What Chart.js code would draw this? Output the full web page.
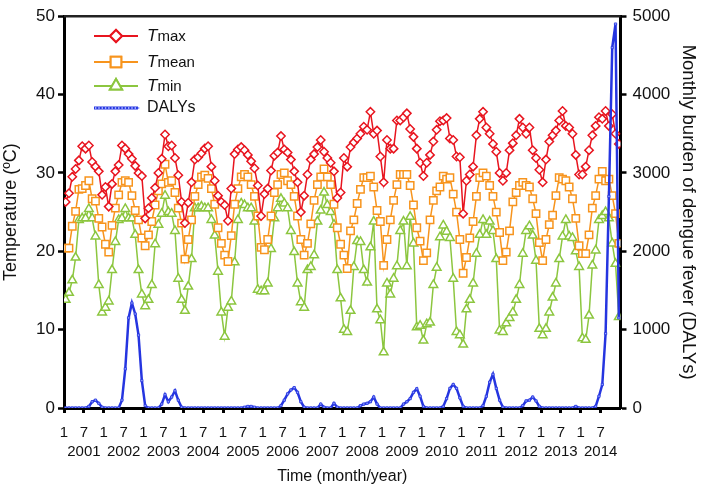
<!DOCTYPE html>
<html><head><meta charset="utf-8">
<script src="https://cdn.jsdelivr.net/npm/chart.js@4.4.0/dist/chart.umd.min.js"></script>
<style>html,body{margin:0;padding:0;background:#fff}#wrap{width:702px;height:488px;position:relative}</style>
</head><body><div id="wrap"><canvas id="c" width="702" height="488"></canvas></div>
<script>
const years = [2001,2002,2003,2004,2005,2006,2007,2008,2009,2010,2011,2012,2013,2014];
const monthTicks = ['1','7'];
const tempTicks = [0,10,20,30,40,50];
const dalyTicks = [0,1000,2000,3000,4000,5000];

const tmax = [
26.3,27.4,29.5,30.5,31.6,33.4,33.1,33.5,31.4,30.8,30.2,27.2,
28.2,25.7,28.6,30.2,31.0,33.5,33.1,32.4,31.8,30.9,30.0,29.6,
24.2,25.5,26.8,28.1,30.0,31.8,34.9,33.4,33.5,31.9,29.7,26.3,
23.6,26.2,28.8,31.7,32.0,32.5,33.1,33.4,30.8,29.0,27.1,26.3,
25.9,23.9,28.0,32.4,33.0,33.3,32.9,32.3,31.5,30.6,28.4,24.5,
27.3,28.0,30.3,32.2,32.6,34.7,33.0,32.6,31.7,30.2,28.8,25.0,
27.1,29.8,31.7,32.4,33.3,34.2,32.7,31.9,31.3,30.2,26.8,27.5,
31.9,30.8,33.3,33.9,34.4,35.0,35.9,35.5,37.8,35.0,35.4,32.1,
28.8,34.2,33.1,33.1,36.7,36.7,37.1,37.6,35.6,34.6,33.1,31.3,
29.6,31.3,32.3,34.0,35.5,36.6,36.7,37.0,34.4,34.2,32.1,32.0,
24.8,29.0,29.8,30.8,34.8,36.9,37.8,35.8,35.0,33.7,32.7,30.0,
29.0,30.0,32.9,33.8,34.8,36.9,35.8,35.0,35.8,32.9,31.9,30.4,
28.8,31.7,34.0,34.8,35.4,36.7,37.9,36.0,35.8,35.0,32.3,29.8,
29.8,30.8,32.9,34.8,36.0,37.1,36.9,37.9,36.0,37.5,35.0,33.7
];
const tmean = [
20.4,20.4,23.2,25.1,27.9,28.0,28.4,29.0,26.7,26.4,24.2,23.1,
20.9,19.9,23.3,25.5,27.2,28.8,29.0,28.8,27.1,25.2,24.0,21.7,
20.7,22.1,23.8,25.9,27.7,28.6,31.1,28.8,29.0,27.5,25.5,23.6,
19.0,21.5,24.0,27.0,28.5,29.5,29.7,29.3,28.0,26.0,23.0,21.0,
19.5,18.7,22.0,26.0,28.0,29.5,29.8,29.5,28.5,27.0,24.5,20.5,
20.2,21.5,24.5,27.5,28.5,29.8,30.0,29.0,28.5,27.0,24.5,21.5,
19.5,21.0,23.5,26.5,28.5,29.5,30.5,29.5,28.5,26.0,23.0,20.9,
19.5,17.8,22.6,24.0,26.1,27.9,29.4,29.4,29.6,28.2,25.2,23.8,
18.2,21.5,24.0,26.5,28.5,29.8,29.8,29.8,28.4,25.9,23.0,21.3,
18.8,19.8,24.0,26.5,27.7,28.2,29.6,29.2,29.4,27.3,25.0,21.5,
17.2,19.2,21.7,23.8,27.0,29.4,30.0,29.6,28.4,27.0,25.0,22.4,
18.8,19.9,22.6,26.3,27.5,28.4,28.8,28.4,28.2,26.7,24.8,21.1,
18.8,21.5,23.4,24.6,27.1,29.4,29.2,29.0,28.2,26.7,24.2,20.7,
19.7,19.7,22.1,25.5,27.1,29.2,30.2,29.0,29.2,27.1,24.8,21.0
];
const tmin = [
13.8,14.7,16.3,19.2,24.0,24.2,24.2,25.4,24.2,21.9,15.7,12.2,
12.8,13.6,17.6,21.2,24.0,24.2,25.4,24.2,24.2,22.1,17.6,14.5,
13.0,13.8,15.7,20.9,23.4,24.8,27.1,25.0,24.8,22.6,16.5,13.8,
12.4,15.5,19.0,25.5,25.5,25.7,25.5,25.5,24.0,22.0,17.4,12.2,
9.1,12.8,13.6,18.6,24.0,26.1,25.9,25.5,25.5,23.8,15.1,14.9,
14.9,15.9,20.3,24.2,25.5,26.7,26.1,25.5,22.6,19.9,15.9,13.5,
12.8,17.6,18.0,19.5,23.8,25.2,27.5,25.9,25.0,23.4,17.6,14.0,
10.0,9.7,12.4,18.0,21.3,21.2,17.6,16.0,20.5,23.8,12.6,11.2,
7.1,15.9,14.5,16.5,18.1,22.6,23.8,18.1,24.4,21.0,10.3,10.5,
8.6,10.7,10.9,15.7,17.9,21.8,23.3,22.5,21.7,16.5,9.7,9.3,
8.1,12.6,13.8,15.9,19.7,22.1,24.0,22.1,23.8,22.6,19.0,9.9,
9.7,10.8,11.5,12.2,13.8,15.7,19.7,22.6,23.2,22.0,18.8,10.1,
9.3,10.1,12.2,14.1,15.9,19.0,21.9,24.0,21.9,21.7,20.0,18.0,
8.9,8.7,11.8,18.2,20.1,24.0,24.5,25.0,24.2,21.0,18.4,11.6
];
const dalys = [
0,0,0,0,0,0,0,20,80,100,60,10,
0,0,0,0,0,100,500,1150,1340,1200,930,350,
30,0,0,0,0,50,170,80,140,220,100,10,
0,0,0,0,0,0,0,0,0,0,0,0,
0,0,0,0,0,0,10,20,20,10,0,0,
0,0,0,0,0,30,100,180,230,260,200,80,
10,0,0,0,0,50,10,0,0,60,10,0,
0,0,0,0,0,30,50,60,80,140,50,0,
0,0,0,0,0,0,50,80,120,200,245,150,
20,0,0,0,0,0,20,120,250,300,250,130,
20,0,0,0,0,0,30,150,330,430,250,100,
10,0,0,0,0,0,30,90,100,140,90,20,
0,0,0,0,0,0,0,0,0,0,20,0,
0,0,0,0,20,150,300,950,2700,4600,4900,1150
];

const pts = arr => arr.map((v, i) => ({x: i + 0.5, y: v}));
const FONT = '"Liberation Sans", Arial, Helvetica, sans-serif';
const RED = '#e8151f', ORANGE = '#f7941d', GREEN = '#8cc63f', BLUE = '#2535e0';

const legendItems = [
  {t: 'T', s: 'max', color: RED, style: 'rectRot', r: 6},
  {t: 'T', s: 'mean', color: ORANGE, style: 'rect', r: 7.5},
  {t: 'T', s: 'min', color: GREEN, style: 'triangle', r: 7},
  {t: '', s: 'DALYs', color: BLUE, style: 'dalys', r: 0}
];

const customPlugin = {
  id: 'custom',
  afterDraw(chart) {
    const ctx = chart.ctx, ca = chart.chartArea;
    ctx.save();
    ctx.strokeStyle = '#222';
    ctx.lineWidth = 2.5;
    ctx.beginPath();
    ctx.moveTo(ca.left, ca.top);
    ctx.lineTo(ca.right, ca.top);
    ctx.stroke();
    const ys = [36, 62, 86, 108];
    const x1 = 94, x2 = 138, xm = 116, tx = 147;
    legendItems.forEach((it, k) => {
      const y = ys[k];
      if (it.style === 'dalys') {
        ctx.strokeStyle = BLUE; ctx.lineWidth = 3;
        ctx.beginPath(); ctx.moveTo(x1, y); ctx.lineTo(x2, y); ctx.stroke();
        ctx.fillStyle = '#9aa6ff';
        for (let x = x1 + 1; x < x2; x += 3.3) ctx.fillRect(x, y - 1, 1.4, 2);
      } else {
        ctx.strokeStyle = it.color; ctx.lineWidth = 1.8;
        ctx.beginPath(); ctx.moveTo(x1, y); ctx.lineTo(x2, y); ctx.stroke();
        ctx.fillStyle = '#fff';
        ctx.lineWidth = 2;
        Chart.helpers.drawPoint(ctx, {pointStyle: it.style, radius: it.r, borderWidth: 2, rotation: 0}, xm, y);
        ctx.fill(); ctx.stroke();
      }
      ctx.fillStyle = '#111';
      ctx.textBaseline = 'middle';
      ctx.textAlign = 'left';
      let x = tx;
      if (it.t) {
        ctx.font = 'italic 17px ' + FONT;
        ctx.fillText(it.t, x, y);
        x += ctx.measureText(it.t).width;
        ctx.font = '15px ' + FONT;
        ctx.fillText(it.s, x, y + 1);
      } else {
        ctx.font = '16px ' + FONT;
        ctx.fillText(it.s, x, y);
      }
    });
    ctx.restore();
  }
};

new Chart(document.getElementById('c'), {
  type: 'line',
  data: {
    datasets: [
      {label: 'DALYs', data: pts(dalys), yAxisID: 'y2', borderColor: BLUE, borderWidth: 2.5,
       pointStyle: 'rect', pointRadius: 1.6, pointBackgroundColor: '#9aa6ff', pointBorderColor: BLUE, pointBorderWidth: 0.8, tension: 0},
      {label: 'Tmax', data: pts(tmax), yAxisID: 'y', borderColor: RED, borderWidth: 1.5,
       pointStyle: 'rectRot', pointRadius: 4.2, pointBackgroundColor: '#fff', pointBorderColor: RED, pointBorderWidth: 1.5, tension: 0},
      {label: 'Tmean', data: pts(tmean), yAxisID: 'y', borderColor: ORANGE, borderWidth: 1.5,
       pointStyle: 'rect', pointRadius: 5.2, pointBackgroundColor: '#fff', pointBorderColor: ORANGE, pointBorderWidth: 1.5, tension: 0},
      {label: 'Tmin', data: pts(tmin), yAxisID: 'y', borderColor: GREEN, borderWidth: 1.5,
       pointStyle: 'triangle', pointRadius: 5, pointBackgroundColor: '#fff', pointBorderColor: GREEN, pointBorderWidth: 1.5, tension: 0}
    ]
  },
  options: {
    responsive: false, animation: false, devicePixelRatio: 1, events: [],
    layout: {padding: {top: 6, left: 0, right: 0, bottom: 0}},
    plugins: {legend: {display: false}, tooltip: {enabled: false}},
    scales: {
      x: {
        type: 'linear', position: 'bottom', min: 0, max: 168,
        afterBuildTicks: s => { s.ticks = []; for (let v = 0; v <= 162; v += 6) s.ticks.push({value: v}); },
        afterFit: s => { s.height = 80; },
        ticks: {
          autoSkip: false, maxRotation: 0, padding: 10, color: '#111',
          font: {family: FONT, size: 15, lineHeight: 1.3},
          callback: v => (v % 12 === 0) ? monthTicks[0] : [monthTicks[1], String(years[Math.floor(v / 12)])]
        },
        grid: {display: true, drawOnChartArea: false, drawTicks: true, tickLength: 5, tickWidth: 3, tickColor: '#000'},
        border: {display: true, width: 3, color: '#000'},
        title: {display: true, text: 'Time (month/year)', color: '#111', font: {family: FONT, size: 16}, padding: {top: 0, bottom: 2}}
      },
      y: {
        position: 'left', min: 0, max: 50,
        afterBuildTicks: s => { s.ticks = tempTicks.map(v => ({value: v})); },
        afterFit: s => { s.width = 64; },
        ticks: {padding: 3, color: '#111', font: {family: FONT, size: 17}, callback: v => String(v)},
        grid: {display: true, drawOnChartArea: false, drawTicks: true, tickLength: 6, tickWidth: 2.5, tickColor: '#000'},
        border: {display: true, width: 3, color: '#000'},
        title: {display: true, text: 'Temperature (ºC)', color: '#111', font: {family: FONT, size: 18}, padding: {top: 0, bottom: 4}}
      },
      y2: {
        position: 'right', min: 0, max: 5000,
        afterBuildTicks: s => { s.ticks = dalyTicks.map(v => ({value: v})); },
        afterFit: s => { s.width = 81.5; },
        ticks: {padding: 6, color: '#111', font: {family: FONT, size: 17}, callback: v => String(v)},
        grid: {display: true, drawOnChartArea: false, drawTicks: true, tickLength: 6, tickWidth: 2.5, tickColor: '#000'},
        border: {display: true, width: 3, color: '#000'},
        title: {display: true, text: 'Monthly burden of dengue fever (DALYs)', color: '#111', font: {family: FONT, size: 18.5}, padding: {top: 3, bottom: 0}}
      }
    }
  },
  plugins: [customPlugin]
});
</script>
</body></html>
